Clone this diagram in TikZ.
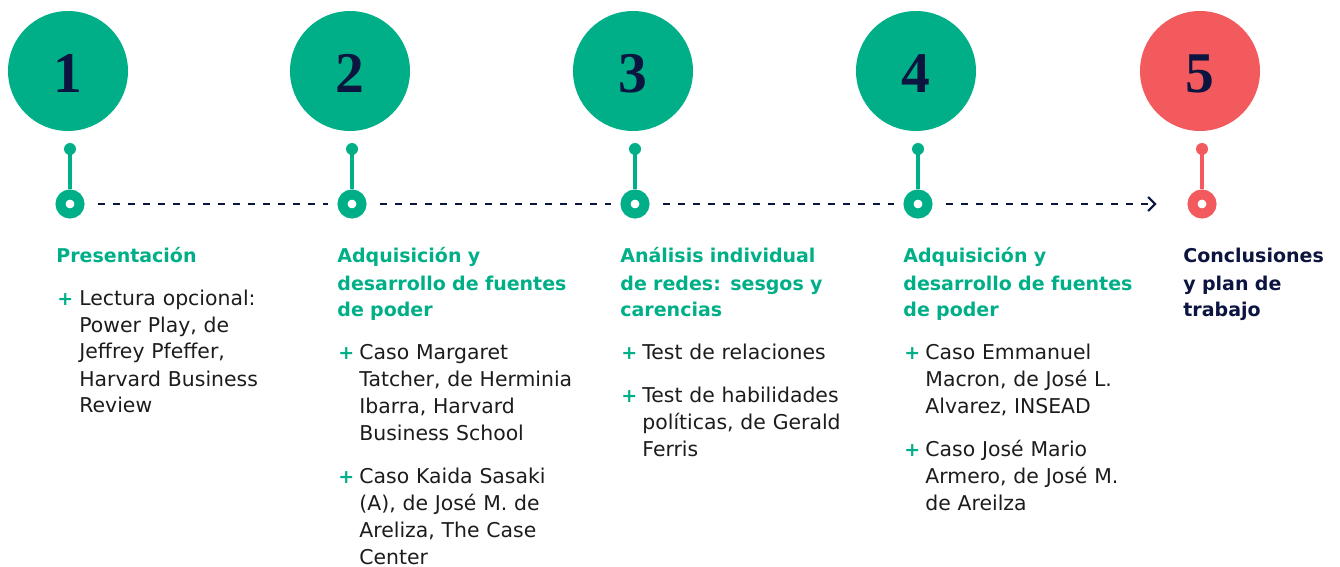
\documentclass[tikz,border=0pt]{standalone}
\usepackage{fontspec}
\setmainfont{DejaVu Sans}
\newfontfamily\digitfont{Liberation Serif}
\usetikzlibrary{arrows.meta}

\definecolor{tlgreen}{RGB}{0,175,135}
\definecolor{tlred}{RGB}{242,90,94}
\definecolor{tlnavy}{RGB}{12,20,64}
\definecolor{tlink}{RGB}{28,28,28}

\begin{document}
\begin{tikzpicture}[x=0.5pt, y=-0.5pt,
    stepcircle/.style={circle, fill=#1, minimum size=60pt, inner sep=0pt,
      text height=22pt, text depth=0pt, text=tlnavy,
      font=\digitfont\bfseries\fontsize{28.8}{28.8}\selectfont},
    stemdot/.style={circle, fill=#1, minimum size=6pt, inner sep=0pt},
    ring/.style={circle, draw=#1, line width=5pt, fill=white, minimum size=9.5pt, inner sep=0pt},
    stem/.style={draw=#1, line width=1.75pt},
    timeline/.style={draw=tlnavy, line width=1pt, dash pattern=on 3.5pt off 4pt,
      shorten <=6.5pt, shorten >=5pt},
    heading/.style={anchor=base west, inner sep=0pt, text width=140pt, align=left,
      text=tlgreen, font=\bfseries\fontsize{9.5}{13.5}\selectfont},
    entry/.style={anchor=base west, inner sep=0pt, text width=140pt, align=left,
      text=tlink, font=\fontsize{10.2}{13.5}\selectfont},
    plus/.style={anchor=base west, inner sep=0pt, text=tlgreen,
      font=\bfseries\fontsize{9.5}{13.5}\selectfont}
  ]

  \useasboundingbox (0,0) rectangle (1340,567);

  % circulos, tallos y anillos
  \foreach \i/\x/\c in {1/68/tlgreen, 2/350/tlgreen, 3/633/tlgreen, 4/916/tlgreen, 5/1200/tlred} {
    \node[stepcircle=\c] (c\i) at (\x,71) {\i};
    \node[stemdot=\c] (d\i) at (\x+2,149) {};
    \node[ring=\c] (r\i) at (\x+2,204) {};
    \draw[stem=\c] (d\i.center) -- (r\i);
  }

  % linea de tiempo
  \draw[timeline] (r1) -- (r2);
  \draw[timeline] (r2) -- (r3);
  \draw[timeline] (r3) -- (r4);
  \draw[timeline, shorten >=0pt, -{Straight Barb[length=3.5pt, width=7pt, line width=1pt]}]
    (r4) -- ([xshift=-15.5pt]r5.west);

  % columna 1
  \node[heading] (h1) at (56,263) {Presentación};
  \node[plus] (p11) at (57,305) {+};
  \node[entry] (e11) at (79,305) {Lectura opcional:\\Power Play, de\\Jeffrey Pfeffer,\\Harvard Business\\Review};

  % columna 2
  \node[heading] (h2) at (337,263) {Adquisición y\\desarrollo de fuentes\\de poder};
  \node[plus] (p21) at (338,359) {+};
  \node[entry] (e21) at (359,359) {Caso Margaret\\Tatcher, de Herminia\\Ibarra, Harvard\\Business School};
  \node[plus] (p22) at (338,483) {+};
  \node[entry] (e22) at (359,483) {Caso Kaida Sasaki\\(A), de José M. de\\Areliza, The Case\\Center};

  % columna 3
  \node[heading] (h3) at (620,263) {Análisis individual\\de redes: sesgos y\\carencias};
  \node[plus] (p31) at (621,359) {+};
  \node[entry] (e31) at (642,359) {Test de relaciones};
  \node[plus] (p32) at (621,402) {+};
  \node[entry] (e32) at (642,402) {Test de habilidades\\políticas, de Gerald\\Ferris};

  % columna 4
  \node[heading] (h4) at (903,263) {Adquisición y\\desarrollo de fuentes\\de poder};
  \node[plus] (p41) at (904,359) {+};
  \node[entry] (e41) at (925,359) {Caso Emmanuel\\Macron, de José L.\\Alvarez, INSEAD};
  \node[plus] (p42) at (904,456) {+};
  \node[entry] (e42) at (925,456) {Caso José Mario\\Armero, de José M.\\de Areilza};

  % columna 5
  \node[heading, text=tlnavy] (h5) at (1183,263) {Conclusiones\\y plan de\\trabajo};

\end{tikzpicture}
\end{document}
